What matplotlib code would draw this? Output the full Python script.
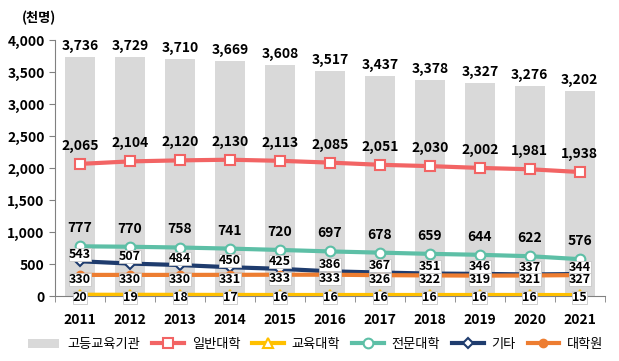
import matplotlib
matplotlib.use("Agg")
import matplotlib.pyplot as plt
import numpy as np

plt.rcParams['font.family'] = ['Noto Sans CJK KR', 'DejaVu Sans']

years = ["2011", "2012", "2013", "2014", "2015", "2016", "2017", "2018", "2019", "2020", "2021"]
total = [3736, 3729, 3710, 3669, 3608, 3517, 3437, 3378, 3327, 3276, 3202]
general = [2065, 2104, 2120, 2130, 2113, 2085, 2051, 2030, 2002, 1981, 1938]
edu = [20, 19, 18, 17, 16, 16, 16, 16, 16, 16, 15]
college = [777, 770, 758, 741, 720, 697, 678, 659, 644, 622, 576]
other = [543, 507, 484, 450, 425, 386, 367, 351, 346, 337, 344]
grad = [330, 330, 330, 331, 333, 333, 326, 322, 319, 321, 327]

x = np.arange(len(years))

fig = plt.figure(figsize=(6.19, 3.61), dpi=100)
ax = fig.add_axes([0.089, 0.18, 0.888, 0.709])

h_bar = ax.bar(x, total, width=0.6, color="#D9D9D9", label="고등교육기관", zorder=1)
h_gen, = ax.plot(x, general, color="#F26464", lw=3, marker="s", ms=7, mfc="white",
                 mec="#F26464", mew=1.5, label="일반대학", zorder=3)
h_edu, = ax.plot(x, edu, color="#FFC000", lw=3, marker="^", ms=7, mfc="white",
                 mec="#FFC000", mew=1.5, label="교육대학", zorder=3)
h_col, = ax.plot(x, college, color="#5DBFA6", lw=3, marker="o", ms=7, mfc="white",
                 mec="#5DBFA6", mew=1.5, label="전문대학", zorder=3)
h_oth, = ax.plot(x, other, color="#1F3C6E", lw=3, marker="D", ms=5, mfc="white",
                 mec="#1F3C6E", mew=1.5, label="기타", zorder=3)
h_grd, = ax.plot(x, grad, color="#ED7D31", lw=3, marker="o", ms=6, mfc="#ED7D31",
                 mec="#ED7D31", label="대학원", zorder=3)

lab = dict(ha="center", va="center", fontsize=10, fontweight="bold",
           textcoords="offset points", zorder=5)
low = dict(lab, fontsize=9)
box = dict(boxstyle="square,pad=0.0", fc="white", ec="#C8C8C8", lw=0.6)

for i in x:
    ax.annotate(f"{total[i]:,}", (i, total[i]), xytext=(0, 8), **lab)
    ax.annotate(f"{general[i]:,}", (i, general[i]), xytext=(0, 13), **lab)
    ax.annotate(f"{college[i]:,}", (i, college[i]), xytext=(0, 13), **lab)
    ax.annotate(f"{other[i]:,}", (i, other[i]), xytext=(0, 5), bbox=box, **low)
    ax.annotate(f"{grad[i]:,}", (i, grad[i]), xytext=(0, -3), bbox=box, **low)
    ax.annotate(f"{edu[i]:,}", (i, edu[i]), xytext=(0, -2), bbox=box, **low)

ax.set_xlim(-0.5, len(years) - 0.5)
ax.set_ylim(0, 4000)
ax.set_yticks(np.arange(0, 4001, 500))
ax.set_yticklabels([f"{v:,}" for v in range(0, 4001, 500)],
                   fontsize=10, fontweight="bold")
ax.set_xticks(x)
ax.set_xticklabels(years, fontsize=10, fontweight="bold")
ax.set_xticks(np.arange(-0.5, len(years), 1), minor=True)
ax.tick_params(axis="x", which="major", length=0, pad=12)
ax.tick_params(axis="x", which="minor", length=4, color="#808080")
ax.tick_params(axis="y", length=4, color="#808080")
for s in ["top", "right"]:
    ax.spines[s].set_visible(False)
ax.spines["left"].set_color("#808080")
ax.spines["bottom"].set_color("#808080")

fig.text(0.035, 0.95, "(천명)", fontsize=9.5, fontweight="bold", va="center")

fig.legend(handles=[h_bar, h_gen, h_edu, h_col, h_oth, h_grd],
           loc="lower center", bbox_to_anchor=(0.51, -0.005), ncol=6,
           frameon=False, fontsize=9.5, handlelength=2.4, columnspacing=0.9,
           handletextpad=0.6)

fig.savefig("out.png", dpi=100)
